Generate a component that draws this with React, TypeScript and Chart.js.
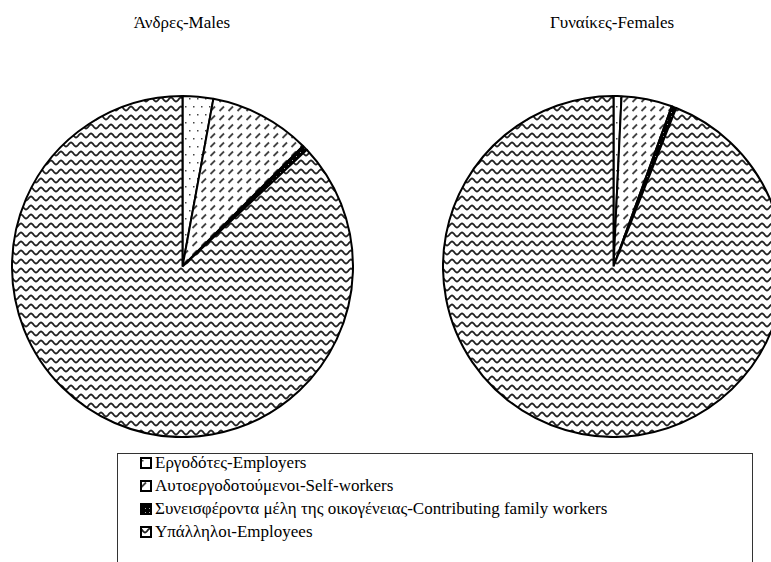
import React, { useEffect, useRef } from "react";
import { Chart, registerables } from "chart.js";

Chart.register(...registerables);

const categories = [
  "Εργοδότες-Employers",
  "Αυτοεργοδοτούμενοι-Self-workers",
  "Συνεισφέροντα μέλη της οικογένειας-Contributing family workers",
  "Υπάλληλοι-Employees",
];
const maleTitle = "Άνδρες-Males";
const femaleTitle = "Γυναίκες-Females";
const maleValues = [2.9, 9.6, 0.5, 87.0];
const femaleValues = [0.75, 4.8, 0.45, 94.0];

function makeTile(w: number, h: number, draw: (c: CanvasRenderingContext2D) => void) {
  const cv = document.createElement("canvas");
  cv.width = w;
  cv.height = h;
  const c = cv.getContext("2d")!;
  c.fillStyle = "#fff";
  c.fillRect(0, 0, w, h);
  draw(c);
  return cv;
}

function makePatterns(ctx: CanvasRenderingContext2D): CanvasPattern[] {
  const dots = makeTile(8, 16, (c) => {
    c.fillStyle = "#444";
    c.fillRect(2, 3, 1.5, 1.5);
    c.fillRect(6, 11, 1.5, 1.5);
  });
  const dashes = makeTile(9, 9, (c) => {
    c.strokeStyle = "#444";
    c.lineWidth = 1.8;
    c.beginPath();
    c.moveTo(1.5, 7);
    c.lineTo(6, 2.5);
    c.stroke();
  });
  const dark = makeTile(4, 4, (c) => {
    c.fillStyle = "#000";
    c.fillRect(0, 0, 4, 4);
    c.fillStyle = "#aaa";
    c.fillRect(1, 1, 1, 1);
  });
  const wave = makeTile(10, 9, (c) => {
    c.strokeStyle = "#222";
    c.lineWidth = 1.8;
    c.beginPath();
    for (let x = -1; x <= 11; x += 0.5) {
      const y = 4.5 - 2 * Math.cos((x / 10) * Math.PI * 2);
      if (x === -1) c.moveTo(x, y);
      else c.lineTo(x, y);
    }
    c.stroke();
  });
  return [dots, dashes, dark, wave].map((t) => ctx.createPattern(t, "repeat")!);
}

function Pie({ values, left, top, size }: { values: number[]; left: number; top: number; size: number }) {
  const ref = useRef<HTMLCanvasElement>(null);
  useEffect(() => {
    const ctx = ref.current!.getContext("2d")!;
    const patterns = makePatterns(ctx);
    const chart = new Chart(ref.current!, {
      type: "pie",
      data: {
        labels: categories,
        datasets: [
          {
            data: values,
            backgroundColor: patterns,
            borderColor: "#000",
            borderWidth: 2,
          },
        ],
      },
      options: {
        animation: false,
        responsive: false,
        layout: { padding: 0 },
        plugins: { legend: { display: false }, tooltip: { enabled: false } },
      },
    });
    return () => chart.destroy();
  }, []);
  return (
    <canvas
      ref={ref}
      width={size}
      height={size}
      style={{ position: "absolute", left, top, width: size, height: size }}
    />
  );
}

function Swatch({ index }: { index: number }) {
  const ref = useRef<HTMLCanvasElement>(null);
  useEffect(() => {
    const c = ref.current!.getContext("2d")!;
    const p = makePatterns(c)[index];
    c.fillStyle = p;
    c.fillRect(0, 0, 12, 12);
    c.strokeStyle = "#000";
    c.lineWidth = 2;
    c.strokeRect(1, 1, 10, 10);
  }, []);
  return <canvas ref={ref} width={12} height={12} style={{ position: "absolute", left: 0, top: 6 }} />;
}

export default function App() {
  const font = "'Liberation Serif', Tinos, 'Times New Roman', Times, 'Noto Serif', 'DejaVu Serif', serif";
  return (
    <div
      style={{
        position: "fixed",
        left: 0,
        top: 0,
        width: 771,
        height: 562,
        overflow: "hidden",
        background: "#fff",
        fontFamily: font,
        color: "#000",
      }}
    >
      <div style={{ position: "absolute", left: 82, width: 200, top: 13, textAlign: "center", fontSize: 17 }}>
        {maleTitle}
      </div>
      <div style={{ position: "absolute", left: 512, width: 200, top: 13, textAlign: "center", fontSize: 17 }}>
        {femaleTitle}
      </div>
      <Pie values={maleValues} left={11} top={95} size={343} />
      <Pie values={femaleValues} left={442} top={95} size={343} />
      <div
        style={{
          position: "absolute",
          left: 117,
          top: 453,
          width: 634,
          height: 140,
          border: "1px solid #333",
        }}
      >
        {categories.map((c, i) => (
          <div
            key={c}
            style={{ position: "absolute", left: 22, top: -3 + i * 23, height: 23, lineHeight: "23px", fontSize: 17 }}
          >
            <Swatch index={i} />
            <span style={{ position: "absolute", left: 15, whiteSpace: "nowrap" }}>{c}</span>
          </div>
        ))}
      </div>
    </div>
  );
}
